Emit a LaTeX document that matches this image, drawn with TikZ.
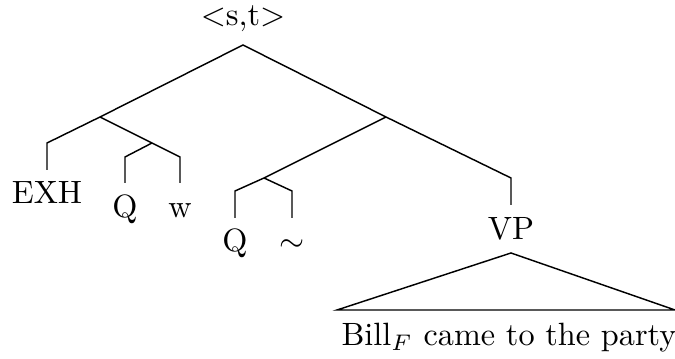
\documentclass[tikz,border=0pt]{standalone}
\begin{document}
\begin{tikzpicture}[x=0.31pt,y=-0.31pt,
  lbl/.style={inner sep=0pt,anchor=base},
  edge/.style={line width=0.45pt}]
\useasboundingbox (0,0) rectangle (675,359);
% coordinates
\coordinate (r) at (243,45);
\coordinate (a) at (100,117);
\coordinate (b) at (386,117);
\coordinate (e1) at (47,143);
\coordinate (e2) at (47,170);
\coordinate (c) at (152,143);
\coordinate (q1) at (125,157);
\coordinate (q2) at (125,183);
\coordinate (w1) at (180,157);
\coordinate (w2) at (180,183);
\coordinate (d) at (264,178);
\coordinate (q3) at (235,191);
\coordinate (q4) at (235,218);
\coordinate (t1) at (292,191);
\coordinate (t2) at (292,218);
\coordinate (v1) at (511,178);
\coordinate (v2) at (511,205);
\coordinate (ta) at (511,253);
\coordinate (tl) at (337,310);
\coordinate (tr) at (675,310);
% labels
\node[lbl] (root) at (243,26) {$<$s,t$>$};
\node[lbl] (exh) at (47,204) {EXH};
\node[lbl] (qa) at (125,218) {Q};
\node[lbl] (w) at (180,218) {w};
\node[lbl] (qb) at (235,252) {Q};
\node[lbl] (tl2) at (292,252) {$\sim$};
\node[lbl] (vp) at (511,240) {VP};
\node[lbl] (bill) at (509,346) {Bill$_F$ came to the party};
% edges
\draw[edge] (e2) -- (e1) -- (a) -- (r) -- (b) -- (v1) -- (v2);
\draw[edge] (a) -- (c) -- (w1) -- (w2);
\draw[edge] (c) -- (q1) -- (q2);
\draw[edge] (b) -- (d) -- (q3) -- (q4);
\draw[edge] (d) -- (t1) -- (t2);
\draw[edge] (tl) -- (ta) -- (tr) -- cycle;
\end{tikzpicture}
\end{document}
